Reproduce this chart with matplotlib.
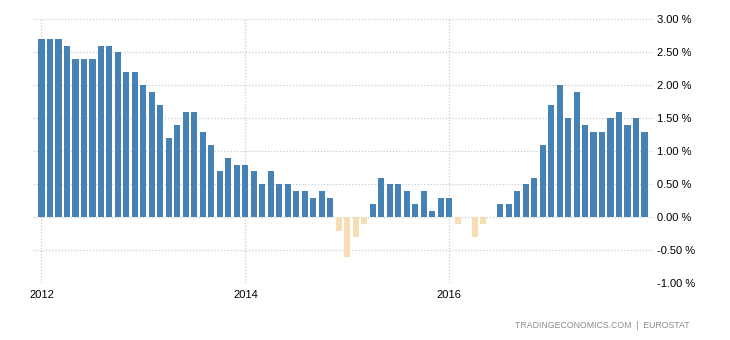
import numpy as np
import matplotlib.pyplot as plt

# Monthly inflation rate, Jan 2012 - Dec 2017 (%)
years = [2012, 2013, 2014, 2015, 2016, 2017]
rate_2012 = [2.7, 2.7, 2.7, 2.6, 2.4, 2.4, 2.4, 2.6, 2.6, 2.5, 2.2, 2.2]
rate_2013 = [2.0, 1.9, 1.7, 1.2, 1.4, 1.6, 1.6, 1.3, 1.1, 0.7, 0.9, 0.8]
rate_2014 = [0.8, 0.7, 0.5, 0.7, 0.5, 0.5, 0.4, 0.4, 0.3, 0.4, 0.3, -0.2]
rate_2015 = [-0.6, -0.3, -0.1, 0.2, 0.6, 0.5, 0.5, 0.4, 0.2, 0.4, 0.1, 0.3]
rate_2016 = [0.3, -0.1, 0.0, -0.3, -0.1, 0.0, 0.2, 0.2, 0.4, 0.5, 0.6, 1.1]
rate_2017 = [1.7, 2.0, 1.5, 1.9, 1.4, 1.3, 1.3, 1.5, 1.6, 1.4, 1.5, 1.3]

x_tick_years = [2012, 2014, 2016]
y_ticks = [-1.0, -0.5, 0.0, 0.5, 1.0, 1.5, 2.0, 2.5, 3.0]
source_text = "TRADINGECONOMICS.COM  |  EUROSTAT"

values = np.array(rate_2012 + rate_2013 + rate_2014 + rate_2015 + rate_2016 + rate_2017)
months = np.arange(len(values))
colors = np.where(values >= 0, "#4682B4", "#F5DEB3")

plt.rcParams["font.family"] = ["Liberation Sans", "DejaVu Sans"]

fig = plt.figure(figsize=(7.3, 3.4), dpi=100)
ax = fig.add_axes([33 / 730, 1 - 283.3 / 340, 620 / 730, (283.3 - 19.3) / 340])

ax.bar(months, values, width=0.72, color=colors, zorder=2)

ax.set_xlim(-1, 72)
ax.set_ylim(-1.0, 3.0)

ax.set_yticks(y_ticks)
ax.set_yticklabels([f"{v:.2f} %" for v in y_ticks])
ax.yaxis.tick_right()
ax.set_xticks([(y - years[0]) * 12 for y in x_tick_years])
ax.set_xticklabels([str(y) for y in x_tick_years])

ax.tick_params(axis="both", length=0, labelsize=8, colors="black")
ax.tick_params(axis="y", pad=3)
ax.tick_params(axis="x", pad=5)

ax.grid(True, color="#cccccc", linestyle=(0, (1, 1.5)), linewidth=0.9, zorder=0)
for s in ax.spines.values():
    s.set_visible(False)

fig.text(690 / 730, 1 - 326 / 340, source_text, ha="right", va="center",
         fontsize=6.3, color="#8c8c8c")

fig.savefig("out.png", dpi=100)
